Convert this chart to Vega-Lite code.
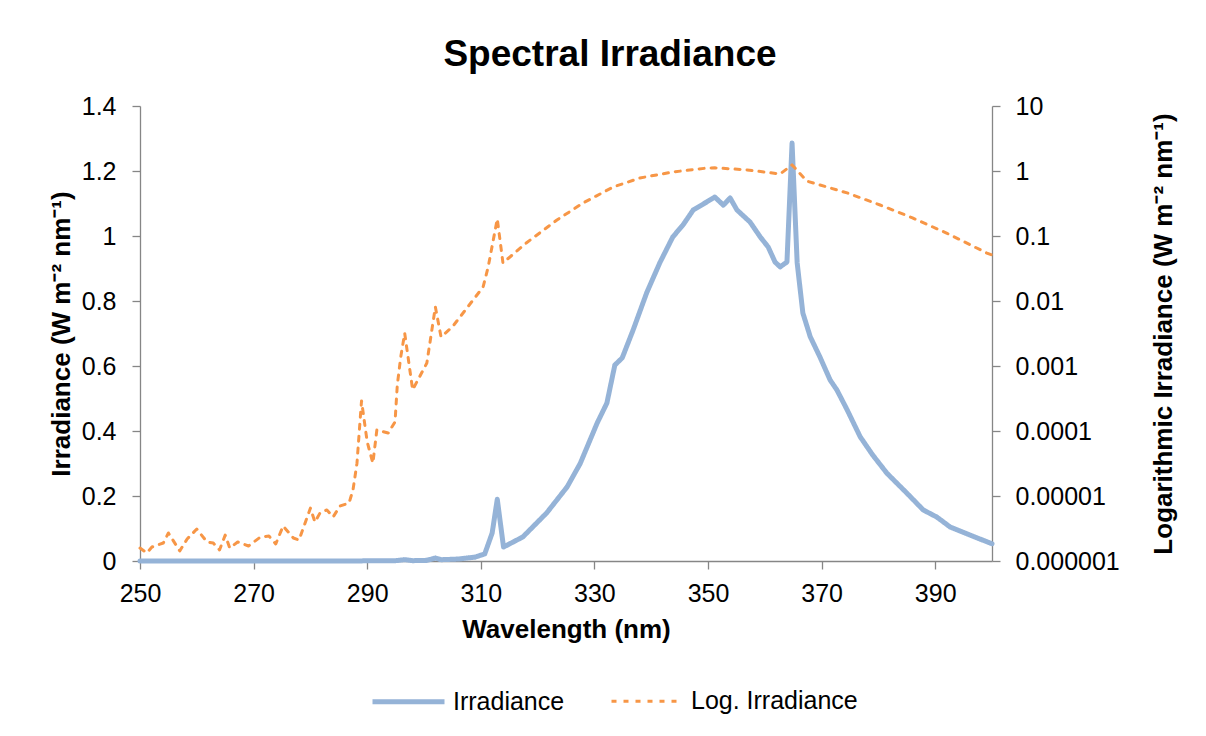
{
  "$schema": "https://vega.github.io/schema/vega-lite/v6.json",
  "width": 852,
  "height": 455,
  "autosize": {"type": "none"},
  "padding": {"left": 140, "top": 106, "right": 214, "bottom": 175},
  "background": "white",
  "title": {
    "text": "Spectral Irradiance",
    "font": "Liberation Sans",
    "fontSize": 37,
    "fontWeight": "bold",
    "color": "black",
    "anchor": "middle",
    "dx": 44,
    "offset": 20
  },
  "config": {
    "view": {"stroke": null},
    "axis": {
      "grid": false,
      "domainColor": "#868686",
      "domainWidth": 1.3,
      "tickColor": "#868686",
      "tickWidth": 1.3,
      "tickSize": 8,
      "labelFont": "Liberation Sans",
      "labelFontSize": 25,
      "labelColor": "black",
      "labelFlush": false,
      "titleFont": "Liberation Sans",
      "titleFontSize": 26,
      "titleFontWeight": "bold",
      "titleColor": "black"
    }
  },
  "data": {
    "values": [
      {"wl": 250, "s": "Irradiance", "v": 0},
      {"wl": 270, "s": "Irradiance", "v": 0},
      {"wl": 290, "s": "Irradiance", "v": 0.0004},
      {"wl": 295, "s": "Irradiance", "v": 0.001},
      {"wl": 296.6, "s": "Irradiance", "v": 0.004},
      {"wl": 298, "s": "Irradiance", "v": 0.001},
      {"wl": 300.5, "s": "Irradiance", "v": 0.002},
      {"wl": 302, "s": "Irradiance", "v": 0.009},
      {"wl": 303, "s": "Irradiance", "v": 0.004},
      {"wl": 306, "s": "Irradiance", "v": 0.006},
      {"wl": 309, "s": "Irradiance", "v": 0.012},
      {"wl": 310.7, "s": "Irradiance", "v": 0.022},
      {"wl": 312, "s": "Irradiance", "v": 0.086},
      {"wl": 312.9, "s": "Irradiance", "v": 0.19},
      {"wl": 314, "s": "Irradiance", "v": 0.043},
      {"wl": 317.4, "s": "Irradiance", "v": 0.074},
      {"wl": 321.6, "s": "Irradiance", "v": 0.148},
      {"wl": 325.2, "s": "Irradiance", "v": 0.228},
      {"wl": 327.5, "s": "Irradiance", "v": 0.3},
      {"wl": 330.5, "s": "Irradiance", "v": 0.425},
      {"wl": 332.2, "s": "Irradiance", "v": 0.486},
      {"wl": 333.6, "s": "Irradiance", "v": 0.603},
      {"wl": 334.9, "s": "Irradiance", "v": 0.625},
      {"wl": 336.8, "s": "Irradiance", "v": 0.71},
      {"wl": 339.2, "s": "Irradiance", "v": 0.825},
      {"wl": 341.5, "s": "Irradiance", "v": 0.917},
      {"wl": 343.8, "s": "Irradiance", "v": 0.997},
      {"wl": 345.6, "s": "Irradiance", "v": 1.034},
      {"wl": 347.4, "s": "Irradiance", "v": 1.08},
      {"wl": 349.8, "s": "Irradiance", "v": 1.105},
      {"wl": 351.2, "s": "Irradiance", "v": 1.12},
      {"wl": 352.7, "s": "Irradiance", "v": 1.095},
      {"wl": 353.9, "s": "Irradiance", "v": 1.117},
      {"wl": 355.1, "s": "Irradiance", "v": 1.08},
      {"wl": 357.4, "s": "Irradiance", "v": 1.043},
      {"wl": 359.2, "s": "Irradiance", "v": 0.997},
      {"wl": 360.6, "s": "Irradiance", "v": 0.966},
      {"wl": 361.8, "s": "Irradiance", "v": 0.92},
      {"wl": 362.7, "s": "Irradiance", "v": 0.905},
      {"wl": 363.9, "s": "Irradiance", "v": 0.92},
      {"wl": 364.8, "s": "Irradiance", "v": 1.286},
      {"wl": 365.7, "s": "Irradiance", "v": 0.917},
      {"wl": 366.7, "s": "Irradiance", "v": 0.763},
      {"wl": 368, "s": "Irradiance", "v": 0.69},
      {"wl": 369.7, "s": "Irradiance", "v": 0.628},
      {"wl": 371.5, "s": "Irradiance", "v": 0.557},
      {"wl": 372.7, "s": "Irradiance", "v": 0.526},
      {"wl": 374.5, "s": "Irradiance", "v": 0.465},
      {"wl": 376.8, "s": "Irradiance", "v": 0.382},
      {"wl": 379, "s": "Irradiance", "v": 0.326},
      {"wl": 381.5, "s": "Irradiance", "v": 0.27},
      {"wl": 385, "s": "Irradiance", "v": 0.209},
      {"wl": 387.9, "s": "Irradiance", "v": 0.157},
      {"wl": 390.3, "s": "Irradiance", "v": 0.135},
      {"wl": 392.6, "s": "Irradiance", "v": 0.105},
      {"wl": 396.1, "s": "Irradiance", "v": 0.08},
      {"wl": 400, "s": "Irradiance", "v": 0.053},

      {"wl": 250, "s": "Log. Irradiance", "v": 0.00000158},
      {"wl": 251.2, "s": "Log. Irradiance", "v": 0.00000133},
      {"wl": 252.1, "s": "Log. Irradiance", "v": 0.00000164},
      {"wl": 254.1, "s": "Log. Irradiance", "v": 0.00000189},
      {"wl": 255, "s": "Log. Irradiance", "v": 0.0000027},
      {"wl": 257, "s": "Log. Irradiance", "v": 0.00000143},
      {"wl": 258.3, "s": "Log. Irradiance", "v": 0.00000218},
      {"wl": 260, "s": "Log. Irradiance", "v": 0.0000031},
      {"wl": 261.8, "s": "Log. Irradiance", "v": 0.00000196},
      {"wl": 262.9, "s": "Log. Irradiance", "v": 0.00000189},
      {"wl": 264, "s": "Log. Irradiance", "v": 0.00000148},
      {"wl": 265, "s": "Log. Irradiance", "v": 0.0000025},
      {"wl": 265.8, "s": "Log. Irradiance", "v": 0.00000158},
      {"wl": 267.2, "s": "Log. Irradiance", "v": 0.00000196},
      {"wl": 269.1, "s": "Log. Irradiance", "v": 0.0000017},
      {"wl": 271.2, "s": "Log. Irradiance", "v": 0.00000234},
      {"wl": 272.7, "s": "Log. Irradiance", "v": 0.00000242},
      {"wl": 273.9, "s": "Log. Irradiance", "v": 0.00000183},
      {"wl": 275.2, "s": "Log. Irradiance", "v": 0.00000345},
      {"wl": 277, "s": "Log. Irradiance", "v": 0.00000226},
      {"wl": 278, "s": "Log. Irradiance", "v": 0.0000021},
      {"wl": 280, "s": "Log. Irradiance", "v": 0.0000065},
      {"wl": 280.8, "s": "Log. Irradiance", "v": 0.00000398},
      {"wl": 281.7, "s": "Log. Irradiance", "v": 0.0000055},
      {"wl": 282.9, "s": "Log. Irradiance", "v": 0.0000061},
      {"wl": 284, "s": "Log. Irradiance", "v": 0.00000475},
      {"wl": 285.2, "s": "Log. Irradiance", "v": 0.000007},
      {"wl": 286.8, "s": "Log. Irradiance", "v": 0.0000078},
      {"wl": 287.5, "s": "Log. Irradiance", "v": 0.0000124},
      {"wl": 288.2, "s": "Log. Irradiance", "v": 0.000032},
      {"wl": 289, "s": "Log. Irradiance", "v": 0.00029},
      {"wl": 290, "s": "Log. Irradiance", "v": 0.000068},
      {"wl": 291, "s": "Log. Irradiance", "v": 0.000032},
      {"wl": 291.7, "s": "Log. Irradiance", "v": 0.000104},
      {"wl": 293.7, "s": "Log. Irradiance", "v": 0.000093},
      {"wl": 294.9, "s": "Log. Irradiance", "v": 0.000138},
      {"wl": 295.3, "s": "Log. Irradiance", "v": 0.00051},
      {"wl": 295.9, "s": "Log. Irradiance", "v": 0.00137},
      {"wl": 296.6, "s": "Log. Irradiance", "v": 0.0032},
      {"wl": 298, "s": "Log. Irradiance", "v": 0.00043},
      {"wl": 300.5, "s": "Log. Irradiance", "v": 0.00111},
      {"wl": 302, "s": "Log. Irradiance", "v": 0.0081},
      {"wl": 303, "s": "Log. Irradiance", "v": 0.0028},
      {"wl": 305, "s": "Log. Irradiance", "v": 0.004},
      {"wl": 310.4, "s": "Log. Irradiance", "v": 0.0164},
      {"wl": 311.3, "s": "Log. Irradiance", "v": 0.0334},
      {"wl": 312.9, "s": "Log. Irradiance", "v": 0.183},
      {"wl": 313.9, "s": "Log. Irradiance", "v": 0.0385},
      {"wl": 318, "s": "Log. Irradiance", "v": 0.078},
      {"wl": 323.4, "s": "Log. Irradiance", "v": 0.176},
      {"wl": 328, "s": "Log. Irradiance", "v": 0.322},
      {"wl": 333.3, "s": "Log. Irradiance", "v": 0.567},
      {"wl": 338, "s": "Log. Irradiance", "v": 0.78},
      {"wl": 343.8, "s": "Log. Irradiance", "v": 0.966},
      {"wl": 349.8, "s": "Log. Irradiance", "v": 1.11},
      {"wl": 351.2, "s": "Log. Irradiance", "v": 1.12},
      {"wl": 356.9, "s": "Log. Irradiance", "v": 1.04},
      {"wl": 362.7, "s": "Log. Irradiance", "v": 0.9},
      {"wl": 364.8, "s": "Log. Irradiance", "v": 1.24},
      {"wl": 367.4, "s": "Log. Irradiance", "v": 0.7},
      {"wl": 374.5, "s": "Log. Irradiance", "v": 0.46},
      {"wl": 380.3, "s": "Log. Irradiance", "v": 0.3},
      {"wl": 386, "s": "Log. Irradiance", "v": 0.19},
      {"wl": 392, "s": "Log. Irradiance", "v": 0.111},
      {"wl": 399.1, "s": "Log. Irradiance", "v": 0.0547},
      {"wl": 400, "s": "Log. Irradiance", "v": 0.051}
    ]
  },
  "encoding": {
    "x": {
      "field": "wl",
      "type": "quantitative",
      "scale": {"domain": [250, 400], "nice": false, "zero": false},
      "axis": {
        "title": "Wavelength (nm)",
        "values": [250, 270, 290, 310, 330, 350, 370, 390],
        "format": "d",
        "labelPadding": 12,
        "titlePadding": 10
      }
    },
    "color": {
      "field": "s",
      "type": "nominal",
      "scale": {"domain": ["Irradiance", "Log. Irradiance"], "range": ["#95B3D7", "#F79646"]},
      "legend": {
        "orient": "none",
        "direction": "horizontal",
        "legendX": 230,
        "legendY": 557,
        "title": null,
        "symbolType": "stroke",
        "symbolSize": 5184,
        "labelFont": "Liberation Sans",
        "labelFontSize": 25,
        "labelColor": "black",
        "labelOffset": 6,
        "labelLimit": 0,
        "columnPadding": 40
      }
    },
    "strokeDash": {
      "field": "s",
      "type": "nominal",
      "scale": {"domain": ["Irradiance", "Log. Irradiance"], "range": [[1, 0], [5, 7]]}
    },
    "strokeWidth": {
      "field": "s",
      "type": "nominal",
      "scale": {"domain": ["Irradiance", "Log. Irradiance"], "range": [5, 3]}
    }
  },
  "layer": [
    {
      "transform": [{"filter": "datum.s === 'Irradiance'"}],
      "mark": {"type": "line", "strokeCap": "round", "strokeJoin": "round"},
      "encoding": {
        "y": {
          "field": "v",
          "type": "quantitative",
          "scale": {"domain": [0, 1.4], "nice": false},
          "axis": {
            "orient": "left",
            "title": "Irradiance (W m⁻² nm⁻¹)",
            "values": [0, 0.2, 0.4, 0.6, 0.8, 1, 1.2, 1.4],
            "format": "~g",
            "labelPadding": 16,
            "titlePadding": 7
          }
        }
      }
    },
    {
      "transform": [{"filter": "datum.s === 'Log. Irradiance'"}],
      "mark": {"type": "line", "strokeCap": "round", "strokeJoin": "round"},
      "encoding": {
        "y": {
          "field": "v",
          "type": "quantitative",
          "scale": {"type": "log", "domain": [0.000001, 10], "nice": false},
          "axis": {
            "orient": "right",
            "title": "Logarithmic Irradiance (W m⁻² nm⁻¹)",
            "values": [0.000001, 0.00001, 0.0001, 0.001, 0.01, 0.1, 1, 10],
            "format": "~f",
            "labelPadding": 15,
            "titleAngle": 270,
            "titleBaseline": "top",
            "titlePadding": 31
          }
        }
      }
    }
  ],
  "resolve": {"scale": {"y": "independent"}}
}
